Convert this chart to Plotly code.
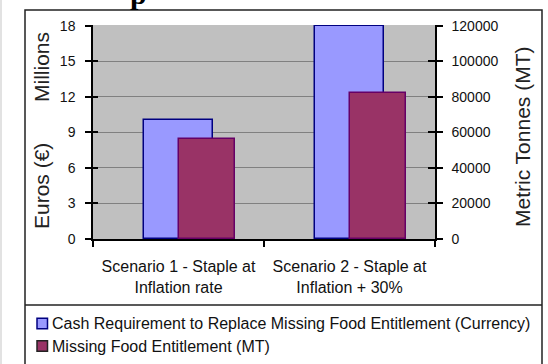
import plotly.graph_objects as go

# --- data ---
scenarios = ["Scenario 1 - Staple at<br>Inflation rate",
             "Scenario 2 - Staple at<br>Inflation + 30%"]
cash_series = "Cash Requirement to Replace Missing Food Entitlement (Currency)"
food_series = "Missing Food Entitlement (MT)"
cash_millions_eur = [10, 18]
missing_food_mt = [56000, 82000]
left_ticks = [0, 3, 6, 9, 12, 15, 18]
right_ticks = [0, 20000, 40000, 60000, 80000, 100000, 120000]

# --- geometry helpers (pixel -> paper) ---
W, H = 548, 364
PL, PR, PT, PB = 93, 435, 25, 239


def px(x):
    return (x - PL) / (PR - PL)


def py(y):
    return (PB - y) / (PB - PT)


BLUE, BLUE_EDGE = "#9999FF", "#000080"
PLUM, PLUM_EDGE = "#993366", "#660066"
FONT = "Liberation Sans, Arial, sans-serif"

# small headroom so the outline of a full-height bar is not clipped
HEAD = 1.003
left_range = [0, left_ticks[-1] * HEAD]
right_range = [0, right_ticks[-1] * HEAD]

fig = go.Figure()
fig.add_trace(go.Bar(
    x=scenarios, y=cash_millions_eur, name=cash_series,
    offset=-0.2, width=0.4, yaxis="y",
    marker=dict(color=BLUE, line=dict(color=BLUE_EDGE, width=1.5)),
    showlegend=False,
))
fig.add_trace(go.Bar(
    x=scenarios, y=missing_food_mt, name=food_series,
    offset=0.0, width=0.33, yaxis="y2",
    marker=dict(color=PLUM, line=dict(color=PLUM_EDGE, width=1.5)),
    showlegend=False,
))

tickfont = dict(family=FONT, size=14, color="#111")

fig.update_layout(
    width=W, height=H,
    margin=dict(l=PL, r=W - PR, t=PT, b=H - PB, pad=0),
    paper_bgcolor="white",
    plot_bgcolor="#C0C0C0",
    bargap=0,
    xaxis=dict(
        type="category", tickson="boundaries", ticks="outside", ticklen=6,
        tickcolor="black", tickwidth=1.5, showline=True, linecolor="black",
        linewidth=1.5, showgrid=False, zeroline=False,
        tickfont=dict(family=FONT, size=16, color="#111"),
        ticklabelstandoff=12,
    ),
    yaxis=dict(
        range=left_range, tickvals=left_ticks, ticks="outside", ticklen=6,
        tickcolor="black", tickwidth=1.5, showline=True, linecolor="black",
        linewidth=1.5, gridcolor="#808080", gridwidth=1.2, zeroline=False,
        tickfont=tickfont, ticklabelstandoff=7,
    ),
    yaxis2=dict(
        range=right_range, tickvals=right_ticks,
        ticktext=[str(v) for v in right_ticks],
        overlaying="y", side="right",
        ticks="outside", ticklen=6, tickcolor="black", tickwidth=1.5,
        showline=True, linecolor="black", linewidth=1.5, showgrid=False,
        zeroline=False, tickfont=tickfont, ticklabelstandoff=6,
    ),
    # inner halves of the cross-style tick marks
    yaxis3=dict(
        range=left_range, tickvals=left_ticks, overlaying="y", side="left",
        ticks="inside", ticklen=5, tickcolor="black", tickwidth=1.5,
        showticklabels=False, showgrid=False, showline=False, zeroline=False,
    ),
    yaxis4=dict(
        range=right_range, tickvals=right_ticks, overlaying="y", side="right",
        ticks="inside", ticklen=7, tickcolor="black", tickwidth=1.5,
        showticklabels=False, showgrid=False, showline=False, zeroline=False,
    ),
)

# empty traces so the tick-only axes get drawn
fig.add_trace(go.Scatter(x=[scenarios[0]], y=[None], yaxis="y3",
                         showlegend=False, hoverinfo="skip"))
fig.add_trace(go.Scatter(x=[scenarios[0]], y=[None], yaxis="y4",
                         showlegend=False, hoverinfo="skip"))

shapes = [
    # chart frame
    dict(type="rect", xref="paper", yref="paper",
         x0=px(25), x1=px(542), y0=py(10), y1=py(368),
         line=dict(color="#222", width=1.5), fillcolor="rgba(0,0,0,0)", layer="above"),
    # legend separator
    dict(type="line", xref="paper", yref="paper",
         x0=px(25), x1=px(542), y0=py(305), y1=py(305),
         line=dict(color="#222", width=1.5)),
    # faint page edge
    dict(type="line", xref="paper", yref="paper",
         x0=px(1), x1=px(1), y0=py(0), y1=py(364),
         line=dict(color="#e2e2e2", width=2)),
]

# legend swatches
legend_rows = [(cash_series, BLUE, BLUE_EDGE, 323.5),
               (food_series, PLUM, "#222", 346.0)]
annotations = []
for label, fill, edge, yc in legend_rows:
    shapes.append(dict(type="rect", xref="paper", yref="paper",
                       x0=px(37), x1=px(47.5), y0=py(yc - 5.3), y1=py(yc + 5.3),
                       fillcolor=fill, line=dict(color=edge, width=1.5)))
    annotations.append(dict(text=label, xref="paper", yref="paper",
                            x=px(50), y=py(yc), xanchor="left", yanchor="middle",
                            showarrow=False,
                            font=dict(family=FONT, size=16, color="#111")))

title_font = dict(family=FONT, size=21, color="#222")
annotations += [
    dict(text="Euros (€)", xref="paper", yref="paper", x=px(41), y=py(186),
         textangle=-90, showarrow=False, font=title_font,
         xanchor="center", yanchor="middle"),
    dict(text="Millions", xref="paper", yref="paper", x=px(41), y=py(67),
         textangle=-90, showarrow=False, font=title_font,
         xanchor="center", yanchor="middle"),
    dict(text="Metric Tonnes (MT)", xref="paper", yref="paper", x=px(522), y=py(137),
         textangle=-90, showarrow=False, font=title_font,
         xanchor="center", yanchor="middle"),
    # descender of the heading above the chart
    dict(text="<b>p</b>", xref="paper", yref="paper", x=px(138), y=py(-7),
         showarrow=False, xanchor="center", yanchor="middle",
         font=dict(family="Liberation Serif, Times New Roman, serif", size=30,
                   color="black")),
]

fig.update_layout(shapes=shapes, annotations=annotations)
fig.write_html("out.html")
